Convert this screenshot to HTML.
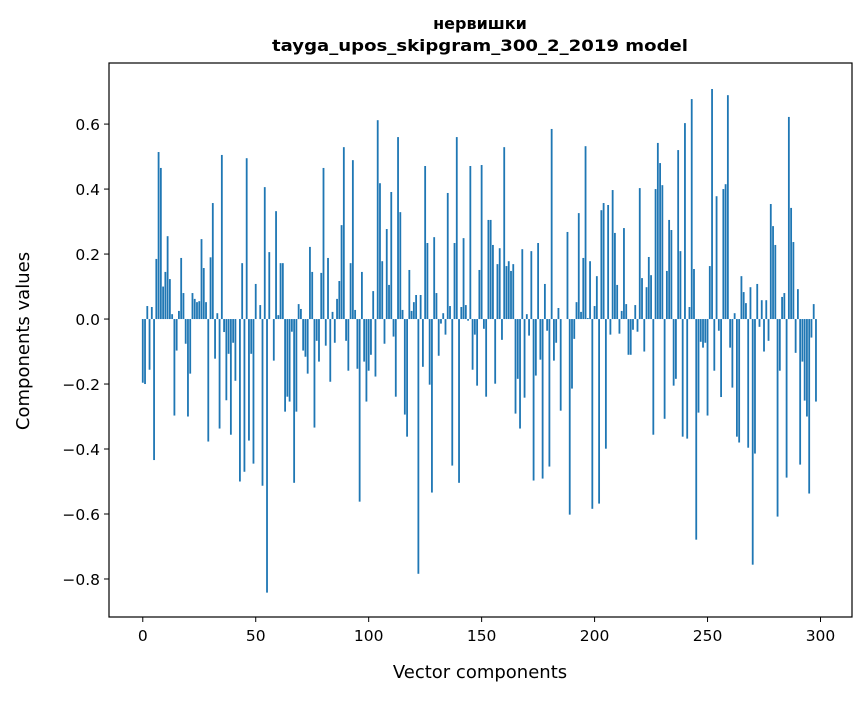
<!DOCTYPE html>
<html><head><meta charset="utf-8"><style>
body{margin:0;background:#fff;}
svg text{font-family:"DejaVu Sans","Liberation Sans",sans-serif;fill:#000;}
</style></head><body>
<svg id="chart" width="867" height="696" xmlns="http://www.w3.org/2000/svg">
<text x="480" y="29" text-anchor="middle" font-size="16" font-weight="bold">нервишки</text>
<text x="480" y="51" text-anchor="middle" font-size="16" font-weight="bold" textLength="416" lengthAdjust="spacingAndGlyphs">tayga_upos_skipgram_300_2_2019 model</text>
<g id="bars"></g>
<g id="axes"></g>
<text x="480" y="678" text-anchor="middle" font-size="18">Vector components</text>
<text transform="translate(29,341) rotate(-90)" text-anchor="middle" font-size="18">Components values</text>
</svg>
<script>
const values = [-0.196,-0.2,0.04,-0.156,0.037,-0.434,0.185,0.514,0.465,0.10,0.145,0.255,0.123,0.015,-0.297,-0.097,0.025,0.188,0.08,-0.076,-0.3,-0.168,0.08,0.062,0.052,0.055,0.246,0.157,0.052,-0.377,0.19,0.357,-0.122,0.018,-0.337,0.505,-0.04,-0.25,-0.107,-0.356,-0.073,-0.19,0.0,-0.5,0.172,-0.47,0.495,-0.374,-0.107,-0.445,
0.108,0.0,0.043,-0.513,0.406,-0.842,0.206,0,-0.128,0.332,0.012,0.172,0.172,-0.285,-0.239,-0.254,-0.039,-0.504,-0.285,0.046,0.031,-0.097,-0.116,-0.168,0.222,0.145,-0.334,-0.067,-0.131,0.142,0.465,-0.082,0.188,-0.193,0.022,-0.073,0.062,0.117,0.289,0.529,-0.067,-0.159,0.172,0.489,0.028,-0.153,-0.562,0.145,-0.131,-0.254,-0.159,
-0.11,0.086,-0.177,0.612,0.418,0.178,-0.076,0.277,0.105,0.391,-0.054,-0.239,0.56,0.329,0.028,-0.294,-0.362,0.151,0.025,0.052,0.074,-0.784,0.074,-0.147,0.471,0.234,-0.202,-0.534,0.252,0.08,-0.113,-0.014,0.018,-0.048,0.388,0.04,-0.451,0.234,0.56,-0.504,0.037,0.249,0.043,-0.005,0.471,-0.156,-0.048,-0.205,0.151,0.474,
-0.03,-0.239,0.305,0.305,0.228,-0.199,0.169,0.218,-0.064,0.529,0.163,0.178,0.148,0.169,-0.291,-0.184,-0.337,0.215,-0.242,0.015,-0.051,0.209,-0.497,-0.174,0.234,-0.125,-0.491,0.108,-0.036,-0.454,0.585,-0.128,-0.073,0.034,-0.282,0,0,0.268,-0.602,-0.214,-0.061,0.052,0.326,0.022,0.188,0.532,0.003,0.178,-0.584,0.04,
0.132,-0.568,0.335,0.357,-0.399,0.351,-0.048,0.397,0.265,0.105,-0.045,0.025,0.28,0.046,-0.11,-0.11,-0.033,0.043,-0.039,0.403,0.126,-0.1,0.098,0.191,0.135,-0.356,0.4,0.542,0.48,0.412,-0.307,0.148,0.305,0.274,-0.205,-0.184,0.52,0.209,-0.362,0.603,-0.368,0.037,0.677,0.154,-0.679,-0.288,-0.07,-0.088,-0.073,-0.297,
0.163,0.708,-0.159,0.378,-0.036,-0.24,0.4,0.415,0.689,-0.088,-0.211,0.018,-0.362,-0.38,0.132,0.083,0.049,-0.396,0.098,-0.756,-0.414,0.108,-0.024,0.058,-0.1,0.058,-0.067,0.354,0.286,0.228,-0.608,-0.159,0.068,0.08,-0.488,0.622,0.342,0.237,-0.104,0.092,-0.448,-0.131,-0.251,-0.3,-0.537,-0.057,0.046,-0.254];
const xTicks = [0,50,100,150,200,250,300];
const yTicks = [-0.8,-0.6,-0.4,-0.2,0.0,0.2,0.4,0.6];
const yTickLabels = ["\u22120.8","\u22120.6","\u22120.4","\u22120.2","0.0","0.2","0.4","0.6"];

const L=109,R=852,T=63,B=617;
const xMin=-14.95,xMax=299+14.95;
const yMin=-0.917,yMax=0.788;
const xs=v=>L+(v-xMin)/(xMax-xMin)*(R-L);
const ys=v=>B-(v-yMin)/(yMax-yMin)*(B-T);
const NS="http://www.w3.org/2000/svg";
const bars=document.getElementById('bars');
const bw=xs(0.8)-xs(0);
values.forEach((v,i)=>{
  const r=document.createElementNS(NS,'rect');
  const y0=ys(0),y1=ys(v);
  r.setAttribute('x',xs(i)-bw/2);
  r.setAttribute('y',Math.min(y0,y1));
  r.setAttribute('width',bw);
  r.setAttribute('height',Math.abs(y1-y0));
  r.setAttribute('fill','#1f77b4');
  
  
  bars.appendChild(r);
});
const axes=document.getElementById('axes');
const frame=document.createElementNS(NS,'rect');
frame.setAttribute('x',L);frame.setAttribute('y',T);
frame.setAttribute('width',R-L);frame.setAttribute('height',B-T);
frame.setAttribute('fill','none');frame.setAttribute('stroke','#000');frame.setAttribute('stroke-width','1.2');


axes.appendChild(frame);
xTicks.forEach(t=>{
  const x=xs(t);
  const l=document.createElementNS(NS,'line');
  l.setAttribute('x1',x);l.setAttribute('x2',x);l.setAttribute('y1',B);l.setAttribute('y2',B+5);
  l.setAttribute('stroke','#000');
  
  
  axes.appendChild(l);
  const tx=document.createElementNS(NS,'text');
  tx.setAttribute('x',x);tx.setAttribute('y',B+24);tx.setAttribute('text-anchor','middle');tx.setAttribute('font-size','15.5');
  tx.textContent=t;
  
  
  axes.appendChild(tx);
});
yTicks.forEach((t,i)=>{
  const y=ys(t);
  const l=document.createElementNS(NS,'line');
  l.setAttribute('x1',L-5);l.setAttribute('x2',L);l.setAttribute('y1',y);l.setAttribute('y2',y);
  l.setAttribute('stroke','#000');
  
  
  axes.appendChild(l);
  const tx=document.createElementNS(NS,'text');
  tx.setAttribute('x',L-9);tx.setAttribute('y',y+6);tx.setAttribute('text-anchor','end');tx.setAttribute('font-size','15.5');
  tx.textContent=yTickLabels[i];
  
  
  axes.appendChild(tx);
});
</script>
</body></html>
